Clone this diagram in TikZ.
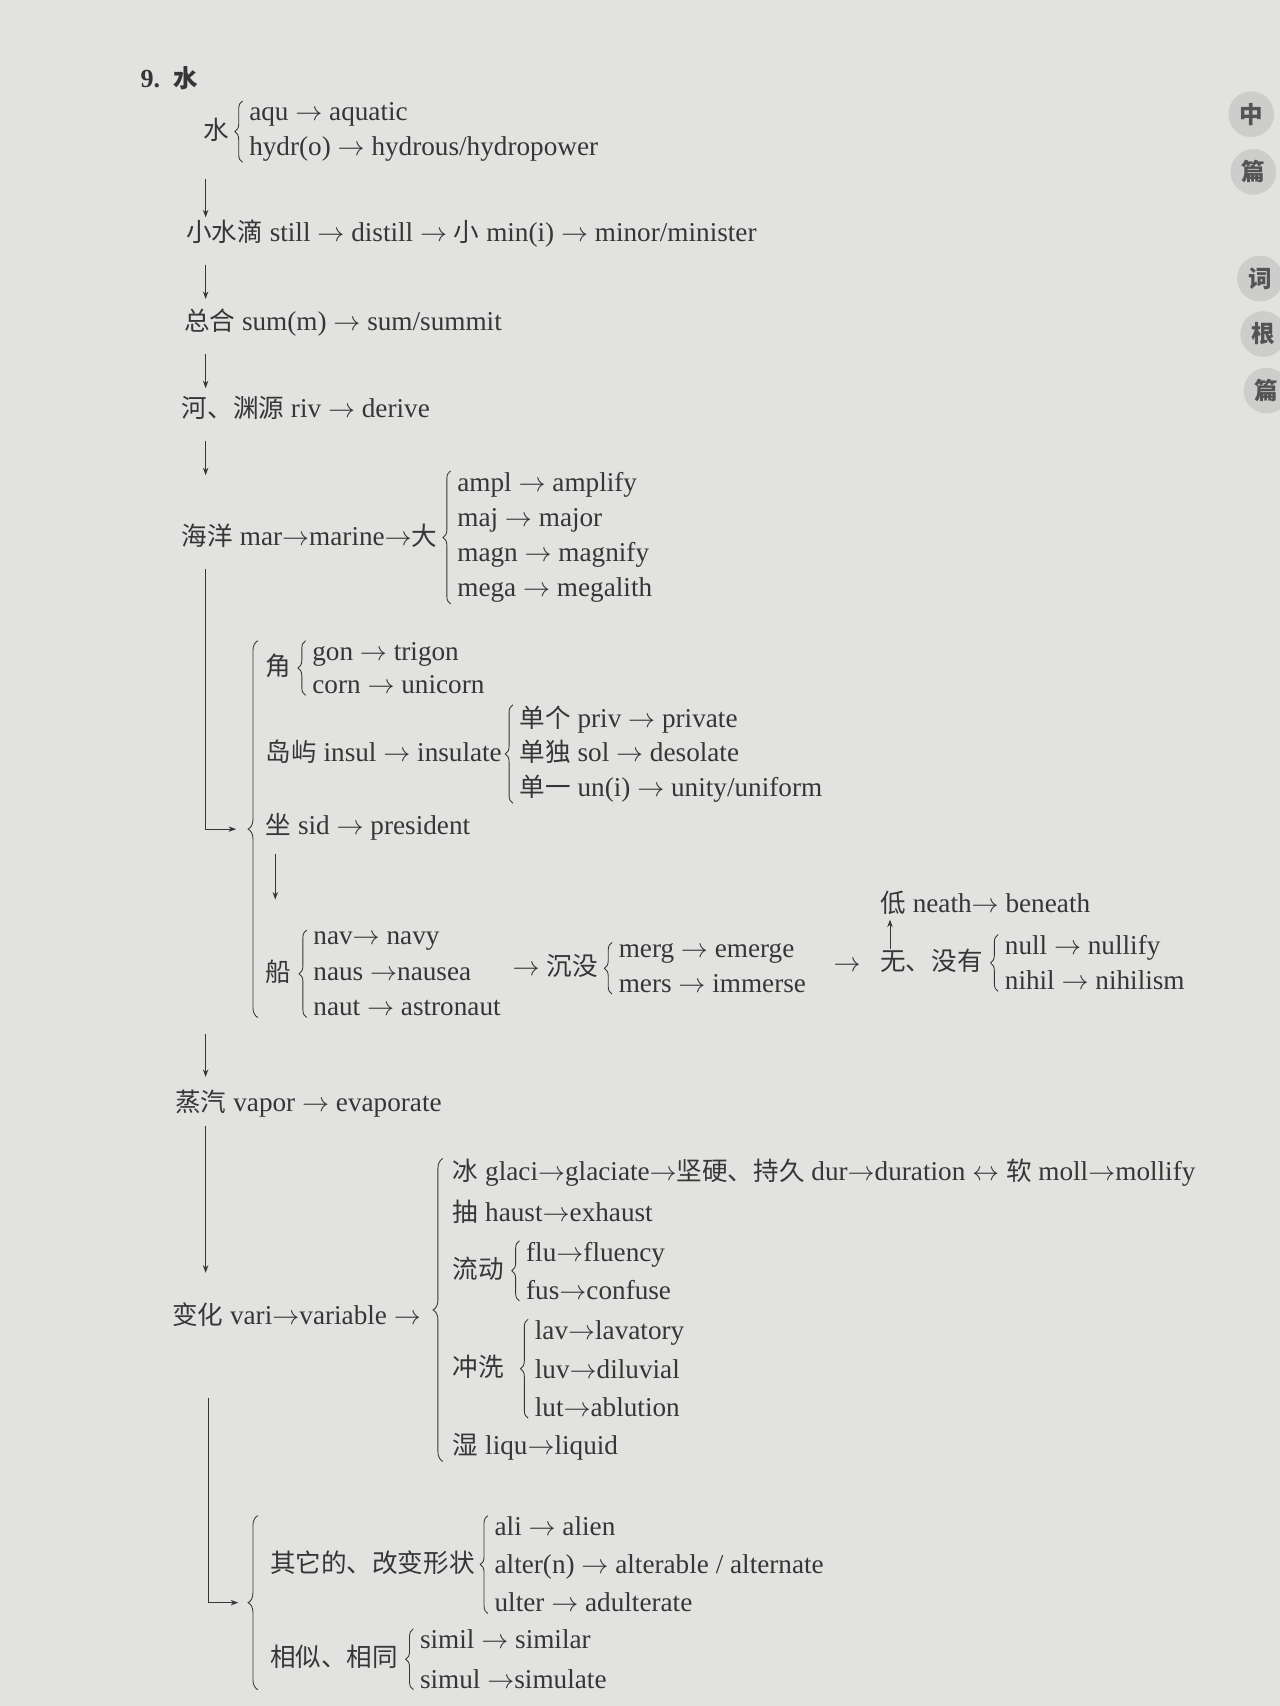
\documentclass[tikz,border=0pt]{standalone}
\usepackage{fontspec}
\setmainfont{Liberation Serif}
\newfontfamily\cjk[Scale=0.94]{Noto Sans CJK SC}
\usetikzlibrary{positioning,arrows.meta,decorations.pathreplacing}

\definecolor{pagegray}{HTML}{E2E2E0}
\definecolor{ink}{HTML}{363636}
\definecolor{tabgray}{HTML}{CDCDCB}
\newcommand{\zh}[1]{{\cjk #1}}
\newcommand{\ra}{\ensuremath{\rightarrow}}

\begin{document}
\begin{tikzpicture}[x=1pt, y=-1pt,
    txt/.style={anchor=west, inner sep=1pt, text height=19pt, text depth=5pt, text=ink, font=\fontsize{25}{29}\selectfont},
    list/.style={anchor=west, inner sep=1pt, align=left, text=ink, font=\fontsize{25}{#1}\selectfont},
    brc/.style={draw=ink, line width=0.8pt, decorate, decoration={brace, amplitude=#1}},
    brc/.default=7pt,
    arrow/.style={draw=ink, line width=0.8pt, -{Stealth[length=7pt, width=5pt]}},
    tab/.style={circle, fill=tabgray, minimum size=42pt, inner sep=0pt, text=ink!85, font=\fontsize{23}{23}\selectfont\cjk\bfseries}]

    % page
    \useasboundingbox (0,0) rectangle (1176,1568);
    \fill[pagegray] (0,0) rectangle (1176,1568);
    \coordinate (trunk) at (189,0);

    % side tabs
    \node[tab] (tabA) at (1150,105) {中};
    \node[tab] (tabB) at (1152,158) {篇};
    \node[tab] (tabC) at (1158,256) {词};
    \node[tab] (tabD) at (1161,307) {根};
    \node[tab] (tabE) at (1164,359) {篇};

    % heading
    \node[txt, font=\fontsize{24}{29}\selectfont\bfseries] (title) at (128,73) {9.\hspace{12pt}\zh{\bfseries 水}};

    % water
    \node[txt] (shui) at (186,121) {\zh{水}};
    \node[list=32, right=16pt of shui] (shuiList) {aqu \ra{} aquatic\\hydr(o) \ra{} hydrous/hydropower};

    % main chain
    \node[txt] (still) at (170,215) {\zh{小水滴} still \ra{} distill \ra{} \zh{小} min(i) \ra{} minor/minister};
    \node[txt] (zonghe) at (168,297) {\zh{总合} sum(m) \ra{} sum/summit};
    \node[txt] (he) at (166,377) {\zh{河、渊源} riv \ra{} derive};
    \node[txt] (haiyang) at (166,494) {\zh{海洋} mar\ra{}marine\ra{}\zh{大}};
    \node[list=32.3, right=16pt of haiyang] (daList) {ampl \ra{} amplify\\maj \ra{} major\\magn \ra{} magnify\\mega \ra{} megalith};

    % sea branches
    \node[txt] (jiao) at (243,614) {\zh{角}};
    \node[list=31, right=17pt of jiao] (jiaoList) {gon \ra{} trigon\\corn \ra{} unicorn};
    \node[txt] (dao) at (243,693) {\zh{岛屿} insul \ra{} insulate};
    \node[list=31.5, right=14pt of dao] (daoList) {\zh{单个} priv \ra{} private\\\zh{单独} sol \ra{} desolate\\\zh{单一} un(i) \ra{} unity/uniform};
    \node[txt] (zuo) at (243,760) {\zh{坐} sid \ra{} president};
    \node[txt] (chuan) at (243,895) {\zh{船}};
    \node[list=33, right=18pt of chuan] (chuanList) {nav\ra{} navy\\naus \ra{}nausea\\naut \ra{} astronaut};
    \node[txt] (chenmo) at (470,890) {\ra{} \zh{沉没}};
    \node[list=32, right=17pt of chenmo] (chenList) {merg \ra{} emerge\\mers \ra{} immerse};
    \node[txt] (toWu) at (765,886) {\ra};
    \node[txt] (wu) at (808,885) {\zh{无、没有}};
    \node[list=32, right=18pt of wu] (wuList) {null \ra{} nullify\\nihil \ra{} nihilism};
    \node[txt] (di) at (808,832) {\zh{低} neath\ra{} beneath};

    % vapor and change
    \node[txt] (zhengqi) at (160,1015) {\zh{蒸汽} vapor \ra{} evaporate};
    \node[txt] (bianhua) at (157,1210) {\zh{变化} vari\ra{}variable \ra};
    \node[txt] (bing) at (415,1078) {\zh{冰} glaci\ra{}glaciate\ra{}\zh{坚硬、持久} dur\ra{}duration \ensuremath{\leftrightarrow} \zh{软} moll\ra{}mollify};
    \node[txt] (chou) at (415,1116) {\zh{抽} haust\ra{}exhaust};
    \node[txt] (liudong) at (415,1168) {\zh{流动}};
    \node[list=35, right=18pt of liudong] (liuList) {flu\ra{}fluency\\fus\ra{}confuse};
    \node[txt] (chongxi) at (415,1258) {\zh{冲洗}};
    \node[list=35.5, right=26pt of chongxi] (chongList) {lav\ra{}lavatory\\luv\ra{}diluvial\\lut\ra{}ablution};
    \node[txt] (shi) at (415,1330) {\zh{湿} liqu\ra{}liquid};
    \node[txt] (qita) at (247,1438) {\zh{其它的、改变形状}};
    \node[list=35, right=16pt of qita] (qitaList) {ali \ra{} alien\\alter(n) \ra{} alterable / alternate\\ulter \ra{} adulterate};
    \node[txt] (xiangsi) at (247,1525) {\zh{相似、相同}};
    \node[list=36, right=18pt of xiangsi] (xiangList) {simil \ra{} similar\\simul \ra{}simulate};

    % braces
    \draw[brc] ([xshift=-5pt]shuiList.south west) -- ([xshift=-5pt]shuiList.north west);
    \draw[brc] ([xshift=-5pt]daList.south west) -- ([xshift=-5pt]daList.north west);
    \draw[brc] ([xshift=-5pt]jiaoList.south west) -- ([xshift=-5pt]jiaoList.north west);
    \draw[brc] ([xshift=-5pt]daoList.south west) -- ([xshift=-5pt]daoList.north west);
    \draw[brc] ([xshift=-5pt]chuanList.south west) -- ([xshift=-5pt]chuanList.north west);
    \draw[brc] ([xshift=-5pt]chenList.south west) -- ([xshift=-5pt]chenList.north west);
    \draw[brc] ([xshift=-5pt]wuList.south west) -- ([xshift=-5pt]wuList.north west);
    \draw[brc] ([xshift=-5pt]liuList.south west) -- ([xshift=-5pt]liuList.north west);
    \draw[brc] ([xshift=-5pt]chongList.south west) -- ([xshift=-5pt]chongList.north west);
    \draw[brc] ([xshift=-5pt]qitaList.south west) -- ([xshift=-5pt]qitaList.north west);
    \draw[brc] ([xshift=-5pt]xiangList.south west) -- ([xshift=-5pt]xiangList.north west);
    \draw[brc=9pt] ([xshift=-8pt]shi.south west) -- ([xshift=-8pt]bing.north west);
    \draw[brc=9pt] ([xshift=-6pt]chuan.west |- chuanList.south) -- node[coordinate, midway] (tipA) {} ([xshift=-6pt]jiao.west |- jiaoList.north);
    \draw[brc=9pt] ([xshift=-10pt]qita.west |- xiangList.south) -- node[coordinate, midway] (tipB) {} ([xshift=-10pt]qita.west |- qitaList.north);

    % connect with arrows
    \draw[arrow, shorten <=15pt, shorten >=2pt] (shuiList.south -| trunk) -- (still.north -| trunk);
    \draw[arrow, shorten <=15pt, shorten >=9pt] (still.south -| trunk) -- (zonghe.north -| trunk);
    \draw[arrow, shorten <=15pt, shorten >=7pt] (zonghe.south -| trunk) -- (he.north -| trunk);
    \draw[arrow, shorten <=15pt, shorten >=44pt] (he.south -| trunk) -- (haiyang.north -| trunk);
    \draw[arrow, shorten <=16pt] (haiyang.south -| trunk) |- ([xshift=-20pt]tipA);
    \coordinate (zuoFoot) at ([xshift=10pt]zuo.south west);
    \draw[arrow, shorten <=12pt, shorten >=28pt] (zuoFoot) -- (zuoFoot |- chuanList.north);
    \draw[arrow] ([xshift=10pt]wu.north west) -- ([xshift=10pt]di.south west);
    \draw[arrow, shorten <=15pt, shorten >=12pt] (chuanList.south -| trunk) -- (zhengqi.north -| trunk);
    \draw[arrow, shorten <=7pt, shorten >=27pt] (zhengqi.south -| trunk) -- (bianhua.north -| trunk);
    \draw[arrow, shorten <=62pt] ([xshift=3pt]bianhua.south -| trunk) |- ([xshift=-18pt]tipB);
\end{tikzpicture}
\end{document}
